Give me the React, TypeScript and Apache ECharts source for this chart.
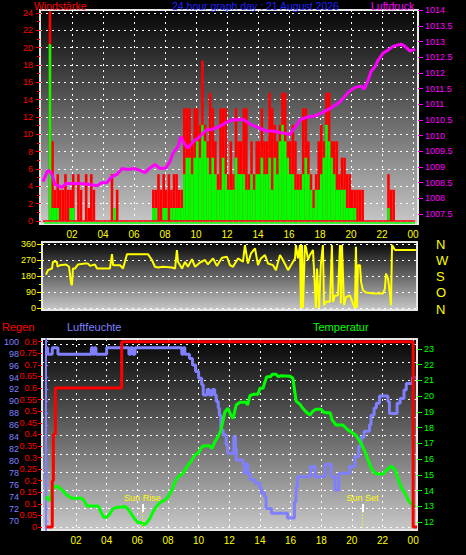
import React, { useEffect, useRef } from "react";
import * as echarts from "echarts";

// ---------- DATA ----------
const windBinsPerHour = 6; // 10-minute bins
const windGust = [
  0, 0, 0, 24.2, 9.2, 3.6,
  5.4, 3.6, 3.6, 5.4, 3.6, 3.6,
  5.4, 0, 5.4, 3.6, 0, 5.4,
  1.5, 5.4, 3.6, 0, 0, 0,
  0, 0, 0, 5.4, 0, 3.6,
  0, 0, 0, 0, 0, 0,
  0, 0, 0, 0, 0, 0,
  0, 3.6, 3.6, 5.4, 3.6, 5.4,
  3.6, 5.4, 3.6, 5.4, 5.4, 3.6,
  3.6, 13, 13, 13, 9.2, 13,
  13, 11.1, 18.5, 11.1, 9.2, 14.8,
  13, 9.2, 5.4, 13, 13, 13,
  5.4, 9.2, 5.4, 13, 9.2, 9.2,
  13, 13, 5.4, 9.2, 5.4, 9.2,
  9.2, 13, 9.2, 9.2, 14.8, 13,
  11.1, 9.2, 11.1, 14.8, 14.8, 9.2,
  9.2, 11.1, 9.2, 5.4, 5.4, 13,
  13, 9.2, 5.4, 3.6, 5.4, 9.2,
  11.1, 9.2, 14.8, 14.8, 9.2, 9.2,
  9.2, 5.4, 7.3, 7.3, 5.4, 5.4,
  3.6, 3.6, 3.6, 3.6, 3.6, 0,
  0, 0, 0, 0, 0, 0,
  0, 0, 5.4, 3.6, 3.6, 0,
  0, 0, 0, 0, 0, 0,
];
const windAvg = [
  0, 0, 0, 20.4, 1.5, 1.5,
  1.5, 0, 0, 0, 0, 1.5,
  1.5, 0, 0, 0, 0, 0,
  0, 0, 0, 0, 0, 0,
  0, 0, 0, 0, 1.5, 0,
  0, 0, 0, 0, 0, 0,
  0, 0, 0, 0, 0, 0,
  0, 1.5, 1.5, 0, 0, 1.5,
  1.5, 0, 1.5, 1.5, 1.5, 1.5,
  1.5, 5.4, 7.3, 7.3, 5.4, 7.3,
  9.2, 7.3, 11.1, 9.2, 7.3, 5.4,
  7.3, 5.4, 3.6, 3.6, 7.3, 5.4,
  3.6, 3.6, 3.6, 7.3, 5.4, 5.4,
  5.4, 3.6, 3.6, 5.4, 3.6, 5.4,
  5.4, 7.3, 5.4, 5.4, 7.3, 3.6,
  7.3, 5.4, 9.2, 11.1, 9.2, 7.3,
  5.4, 5.4, 3.6, 3.6, 3.6, 5.4,
  7.3, 5.4, 3.6, 1.5, 3.6, 3.6,
  5.4, 7.3, 11.1, 9.2, 7.3, 5.4,
  3.6, 3.6, 3.6, 3.6, 1.5, 1.5,
  1.5, 1.5, 0, 0, 0, 0,
  0, 0, 0, 0, 0, 0,
  0, 0, 1.5, 0, 0, 0,
  0, 0, 0, 0, 0, 0,
];

const pressHours = [0.13,0.45,0.58,0.71,0.9,1.35,1.61,2.52,3.16,3.61,3.94,4.26,4.58,4.9,5.23,5.61,6.06,6.39,6.71,7.03,7.35,7.68,8.06,8.32,8.52,8.84,9.03,9.23,9.48,9.81,10.26,10.65,11.03,11.55,12.06,12.39,13.03,13.48,14.0,14.52,14.9,15.42,16.06,16.35,16.71,17.15,17.68,18.0,18.65,19.35,19.81,20.26,20.65,20.84,21.1,21.29,21.55,21.74,22.06,22.39,22.71,23.23,23.48,23.81,24.13];
const pressValues = [1008.53,1008.9,1008.85,1008.76,1008.45,1008.35,1008.47,1008.47,1008.44,1008.4,1008.5,1008.5,1008.7,1008.76,1008.95,1008.92,1008.95,1008.89,1008.82,1008.97,1009.08,1008.95,1008.97,1009.17,1009.45,1009.65,1009.97,1009.76,1009.6,1009.8,1009.97,1010.18,1010.2,1010.3,1010.45,1010.5,1010.52,1010.37,1010.26,1010.15,1010.15,1010.1,1010.04,1010.24,1010.5,1010.59,1010.63,1010.7,1010.87,1011.1,1011.38,1011.54,1011.58,1011.48,1011.76,1012.05,1012.2,1012.4,1012.63,1012.73,1012.85,1012.92,1012.85,1012.7,1012.76];

const dirHours = [0.32,0.45,0.71,0.77,1.03,1.06,1.23,1.61,1.81,1.94,2.0,2.06,2.19,2.39,2.84,3.03,3.16,3.48,3.61,4.45,4.58,4.65,5.1,5.29,5.55,6.9,7.16,7.35,7.55,7.87,8.45,8.65,8.77,8.84,9.1,9.29,9.48,9.74,9.94,10.26,10.58,10.77,11.1,11.35,11.68,12.0,12.19,12.39,12.71,13.03,13.16,13.35,13.55,13.81,14.0,14.19,14.45,14.65,14.97,15.16,15.42,15.61,15.94,16.13,16.39,16.45,16.58,16.71,16.77,16.84,16.9,17.03,17.1,17.23,17.35,17.55,17.74,17.81,17.94,18.06,18.19,18.26,18.39,18.65,18.77,18.84,18.97,19.16,19.29,19.35,19.42,19.55,19.68,19.94,20.13,20.26,20.32,20.39,20.45,20.58,20.65,20.77,20.97,21.42,22.06,22.19,22.26,22.39,22.52,22.58,22.65,22.84,24.19];
const dirDegrees = [188,213,222,260,260,232,241,245,232,138,128,222,222,245,250,250,237,245,222,222,303,241,241,222,303,303,270,232,228,232,228,222,326,260,222,260,232,275,232,256,270,245,279,237,283,288,241,232,279,260,354,250,307,335,241,279,298,250,241,213,298,270,213,241,279,354,279,354,0,354,0,354,340,270,298,326,0,222,0,250,354,15,35,35,354,34,70,70,354,25,354,15,62,70,25,0,345,0,241,241,147,100,87,81,81,109,194,166,72,15,354,326,326];

const rainHours = [0.08, 0.45, 0.52, 0.65, 4.98, 24.0, 24.25];
const rainValues = [0, 0.2, 0.4, 0.6, 0.8, 0, 0];

const humHours = [0.08,0.15,0.45,0.82,3.0,3.1,3.2,3.3,4.0,5.45,5.55,5.7,5.85,8.9,9.0,9.1,9.4,9.6,9.8,10.0,10.2,10.3,10.55,10.7,10.9,11.05,11.15,11.28,11.35,11.45,11.6,11.8,11.9,12.3,12.4,12.45,12.9,13.0,13.1,13.2,13.35,13.7,14.0,14.1,14.3,14.4,14.75,15.8,16.25,16.35,16.45,17.3,17.6,18.25,18.65,18.9,19.15,19.85,20.2,20.45,20.6,20.8,21.15,21.25,21.45,21.6,21.8,22.35,22.45,22.95,23.15,23.4,23.55,23.95,24.15];
const humValues = [99,97.9,99,97.9,99,97.9,99,97.9,99,97.9,99,97.9,99,97.9,99,97.9,97.2,96.1,95,93.9,92.8,91.1,92,91.1,92,91.1,90,88.9,87.7,85.2,84.4,82.7,81.3,84.1,82.2,80.2,79.5,78,79.5,78,76.9,76.3,75.5,74.7,74.1,72.1,71.3,70.5,73.2,75.7,77.4,79.1,77.4,79.5,77.4,75.2,78,79.1,80.8,82.5,84,85,86.1,87.7,88.9,89.7,90.9,90,88,89.7,90.5,91.9,93,94,94];

const tempHours = [0.04,0.2,0.3,0.43,0.63,0.82,1.08,1.4,1.73,2.4,2.6,2.7,3.45,3.56,3.8,4.0,4.2,4.4,4.7,5.0,5.2,5.4,5.65,5.85,6.05,6.3,6.37,6.6,6.83,7.03,7.28,7.48,7.8,8.0,8.26,8.46,8.66,8.98,9.24,9.57,9.76,9.96,10.22,10.4,10.7,10.87,11.07,11.27,11.46,11.72,11.92,12.1,12.25,12.45,12.7,13.1,13.2,13.35,13.55,13.87,14.0,14.2,14.33,14.45,14.7,14.8,15.05,15.2,15.4,15.96,16.15,16.26,16.36,16.62,16.8,17.0,17.27,17.47,17.66,17.99,18.12,18.3,18.58,18.71,18.97,19.4,19.75,20.08,20.3,20.6,20.86,21.06,21.26,21.52,21.7,22.04,22.23,22.56,22.82,23.0,23.2,23.47,23.67,23.87,24.13];
const tempValues = [13.61,13.4,13.4,14.04,14.25,14.25,14.04,13.72,13.51,13.51,13.23,13.02,13.02,12.77,12.3,12.3,12.51,12.83,12.94,12.94,13.0,12.81,12.45,12.17,11.96,11.96,11.81,11.92,12.24,12.66,13.02,13.23,13.4,13.61,14.04,14.56,14.88,15.1,15.52,15.94,16.26,16.36,16.79,16.85,16.85,16.68,17.11,17.43,17.85,19.01,19.23,18.8,18.59,19.44,19.61,19.61,19.44,20.03,20.12,20.12,20.5,20.5,20.92,21.24,21.24,21.39,21.39,21.24,21.3,21.27,21.14,20.39,19.69,19.48,19.23,19.01,18.8,19.06,19.17,19.17,19.01,18.95,18.95,18.49,18.17,18.17,17.85,17.64,17.47,17.0,16.47,15.94,15.42,15.1,15.05,15.05,15.27,15.56,15.31,14.78,14.25,13.83,13.4,13.15,12.94];

const sunRiseHour = 6.33;
const sunSetHour = 20.69;

// tick labels
const hourTicks = [2, 4, 6, 8, 10, 12, 14, 16, 18, 20, 22, 24];
const windTicks = [0, 2, 4, 6, 8, 10, 12, 14, 16, 18, 20, 22, 24];
const windMinorTicks = [1, 3, 5, 7, 9, 11, 13, 15, 17, 19, 21, 23];
const pressTicks = [1007.5, 1008, 1008.5, 1009, 1009.5, 1010, 1010.5, 1011, 1011.5, 1012, 1012.5, 1013, 1013.5, 1014];
const dirTicks = [0, 90, 180, 270, 360];
const dirMinorTicks = [45, 135, 225, 315];
const compassLetters = ["N", "O", "S", "W", "N"];
const humTicks = [70, 72, 74, 76, 78, 80, 82, 84, 86, 88, 90, 92, 94, 96, 98, 100];
const rainTicks = [0, 0.05, 0.1, 0.15, 0.2, 0.25, 0.3, 0.35, 0.4, 0.45, 0.5, 0.55, 0.6, 0.65, 0.7, 0.75, 0.8];
const tempTicks = [12, 13, 14, 15, 16, 17, 18, 19, 20, 21, 22, 23];
const gridRowTicks = [0, 1, 2, 3, 4, 5, 6, 7, 8, 9, 10];

// ---------- STYLE ----------
const FONT = '"Liberation Sans", Arial, sans-serif';
const RED = "#ff0000";
const GREEN = "#00ff00";
const MAGENTA = "#ff00ff";
const YELLOW = "#ffff00";
const LAVENDER = "#8080ff";
const dotted = { color: "#ffffff", width: 1, type: [2, 4] as number[] };

const grad = () =>
  new echarts.graphic.LinearGradient(0, 0, 0, 1, [
    { offset: 0, color: "#050505" },
    { offset: 1, color: "#c8c8c8" },
  ]);

const fmtHour = (v: number) => String(Math.round(v) % 24).padStart(2, "0");
const fmtNum = (v: number) => String(+Number(v).toFixed(2));

function buildOption(): any {
  const gridBase = {
    show: true,
    borderColor: "#e6e6e6",
    borderWidth: 2,
    outerBoundsMode: "none",
    containLabel: false,
  };
  const hourAxis = (gridIndex: number, min: number, max: number, labels: boolean) => ({
    gridIndex,
    type: "value",
    min,
    max,
    axisLine: { show: false },
    axisTick: { show: false, customValues: hourTicks },
    axisLabel: {
      show: labels,
      customValues: hourTicks,
      formatter: fmtHour,
      color: YELLOW,
      fontSize: 10,
      fontFamily: FONT,
      margin: 5,
    },
    splitLine: { show: labels, lineStyle: dotted },
  });
  const noSplit = { show: false };

  const sunMark = (hour: number, text: string) => [
    [
      {
        coord: [hour, 0.82],
        lineStyle: { color: "#ffffff", width: 2, type: "solid" },
        label: {
          show: true,
          position: "end",
          formatter: text,
          color: YELLOW,
          fontSize: 9,
          fontFamily: FONT,
          distance: 1,
        },
      },
      { coord: [hour, 1.26] },
    ],
    [
      {
        coord: [hour, -0.05],
        lineStyle: { color: YELLOW, width: 1, type: [1, 2] },
        label: { show: false },
      },
      { coord: [hour, 0.82] },
    ],
  ];

  const title = (x: number, y: number, text: string, fill: string, size: number) => ({
    type: "text",
    x,
    y,
    z: 100,
    style: { text, fill, fontSize: size, fontFamily: FONT, verticalAlign: "top" },
  });

  return {
    animation: false,
    backgroundColor: "#000000",
    textStyle: { fontFamily: FONT },
    grid: [
      { ...gridBase, left: 40, top: 10, width: 378, height: 214, backgroundColor: grad() },
      { ...gridBase, left: 42, top: 242, width: 375, height: 68, backgroundColor: grad() },
      { ...gridBase, left: 42, top: 339, width: 375, height: 191, backgroundColor: grad() },
    ],
    xAxis: [
      hourAxis(0, -0.06, 24.32, true),
      hourAxis(1, 0.065, 24.26, false),
      hourAxis(2, -0.22, 24.25, true),
    ],
    yAxis: [
      // 0 wind speed
      {
        gridIndex: 0,
        type: "value",
        position: "left",
        min: -0.35,
        max: 24.35,
        axisLine: { show: false },
        axisTick: { show: true, customValues: windTicks, length: 5, lineStyle: { color: RED } },
        axisLabel: { customValues: windTicks, color: RED, fontSize: 9, fontFamily: FONT, margin: 7 },
        splitLine: { show: true, lineStyle: dotted },
      },
      // 1 wind minor ticks
      {
        gridIndex: 0,
        type: "value",
        position: "left",
        min: -0.35,
        max: 24.35,
        axisLine: { show: false },
        axisTick: { show: true, customValues: windMinorTicks, length: 3, lineStyle: { color: RED } },
        axisLabel: { show: false },
        splitLine: noSplit,
      },
      // 2 pressure
      {
        gridIndex: 0,
        type: "value",
        position: "right",
        min: 1007.18,
        max: 1014.01,
        axisLine: { show: false },
        axisTick: { show: true, customValues: pressTicks, length: 5, lineStyle: { color: MAGENTA } },
        axisLabel: { customValues: pressTicks, formatter: fmtNum, color: MAGENTA, fontSize: 9, fontFamily: FONT, margin: 7 },
        splitLine: noSplit,
      },
      // 3 wind direction degrees
      {
        gridIndex: 1,
        type: "value",
        position: "left",
        min: -11.25,
        max: 371.25,
        axisLine: { show: false },
        axisTick: { show: true, customValues: dirTicks, length: 5, lineStyle: { color: YELLOW } },
        axisLabel: { customValues: dirTicks, color: YELLOW, fontSize: 9, fontFamily: FONT, margin: 6 },
        splitLine: { show: true, lineStyle: dotted },
      },
      // 4 direction minor ticks
      {
        gridIndex: 1,
        type: "value",
        position: "left",
        min: -11.25,
        max: 371.25,
        axisLine: { show: false },
        axisTick: { show: true, customValues: dirMinorTicks, length: 3, lineStyle: { color: YELLOW } },
        axisLabel: { show: false },
        splitLine: noSplit,
      },
      // 5 compass letters
      {
        gridIndex: 1,
        type: "value",
        position: "right",
        min: -5.4,
        max: 373.5,
        axisLine: { show: false },
        axisTick: { show: false, customValues: dirTicks },
        axisLabel: {
          customValues: dirTicks,
          formatter: (v: number) => compassLetters[Math.round(v / 90)],
          color: YELLOW,
          fontSize: 13,
          fontFamily: FONT,
          margin: 19,
        },
        splitLine: noSplit,
      },
      // 6 humidity
      {
        gridIndex: 2,
        type: "value",
        position: "left",
        offset: 20,
        min: 68.49,
        max: 100.45,
        axisLine: { show: true, lineStyle: { color: LAVENDER, width: 2 } },
        axisTick: { show: true, inside: true, customValues: humTicks, length: 3, lineStyle: { color: LAVENDER } },
        axisLabel: { customValues: humTicks, color: LAVENDER, fontSize: 9, fontFamily: FONT, margin: 3 },
        splitLine: noSplit,
      },
      // 7 rain
      {
        gridIndex: 2,
        type: "value",
        position: "left",
        min: -0.01295,
        max: 0.8117,
        axisLine: { show: false },
        axisTick: { show: true, customValues: rainTicks, length: 4, lineStyle: { color: RED } },
        axisLabel: { customValues: rainTicks, formatter: fmtNum, color: RED, fontSize: 9, fontFamily: FONT, margin: 5 },
        splitLine: noSplit,
      },
      // 8 temperature
      {
        gridIndex: 2,
        type: "value",
        position: "right",
        min: 11.49,
        max: 23.636,
        axisLine: { show: false },
        axisTick: { show: true, customValues: tempTicks, length: 5, lineStyle: { color: GREEN } },
        axisLabel: { customValues: tempTicks, color: GREEN, fontSize: 9, fontFamily: FONT, margin: 7 },
        splitLine: noSplit,
      },
      // 9 panel-3 grid rows (no labels)
      {
        gridIndex: 2,
        type: "value",
        position: "right",
        min: -0.164,
        max: 10.273,
        axisLine: { show: false },
        axisTick: { show: false, customValues: gridRowTicks },
        axisLabel: { show: false, customValues: gridRowTicks },
        splitLine: { show: true, lineStyle: dotted },
      },
    ],
    series: [
      {
        type: "bar",
        name: "gust",
        xAxisIndex: 0,
        yAxisIndex: 0,
        barWidth: 2.6,
        barGap: "-100%",
        itemStyle: { color: RED },
        data: windGust.map((v, i) => [(i + 0.5) / windBinsPerHour, v]),
        markLine: {
          silent: true,
          symbol: "none",
          label: { show: false },
          lineStyle: { color: RED, width: 1.5, type: "solid" },
          data: [[{ coord: [0.13, 0] }, { coord: [24.13, 0] }]],
        },
      },
      {
        type: "bar",
        name: "avg",
        xAxisIndex: 0,
        yAxisIndex: 0,
        barWidth: 2.6,
        barGap: "-100%",
        itemStyle: { color: GREEN },
        data: windAvg.map((v, i) => [(i + 0.5) / windBinsPerHour, v]),
        markLine: {
          silent: true,
          symbol: "none",
          label: { show: false },
          lineStyle: { color: GREEN, width: 1.5, type: "solid" },
          data: [[{ coord: [0.2, -0.25] }, { coord: [24.13, -0.25] }]],
        },
      },
      {
        type: "line",
        name: "pressure",
        xAxisIndex: 0,
        yAxisIndex: 2,
        symbol: "none",
        lineStyle: { color: MAGENTA, width: 3 },
        data: pressHours.map((h, i) => [h, pressValues[i]]),
      },
      {
        type: "line",
        name: "direction",
        xAxisIndex: 1,
        yAxisIndex: 3,
        symbol: "none",
        lineStyle: { color: YELLOW, width: 2 },
        data: dirHours.map((h, i) => [h, dirDegrees[i]]),
      },
      {
        type: "line",
        name: "humidity",
        xAxisIndex: 2,
        yAxisIndex: 6,
        symbol: "none",
        step: "end",
        lineStyle: { color: LAVENDER, width: 3 },
        data: humHours.map((h, i) => [h, humValues[i]]),
      },
      {
        type: "line",
        name: "temperature",
        xAxisIndex: 2,
        yAxisIndex: 8,
        symbol: "none",
        lineStyle: { color: GREEN, width: 3 },
        data: tempHours.map((h, i) => [h, tempValues[i]]),
      },
      {
        type: "line",
        name: "rain",
        xAxisIndex: 2,
        yAxisIndex: 7,
        symbol: "none",
        step: "end",
        lineStyle: { color: RED, width: 3 },
        data: rainHours.map((h, i) => [h, rainValues[i]]),
      },
      {
        type: "line",
        name: "sun",
        xAxisIndex: 2,
        yAxisIndex: 9,
        symbol: "none",
        data: [],
        markLine: {
          silent: true,
          symbol: "none",
          data: [...sunMark(sunRiseHour, "Sun Rise"), ...sunMark(sunSetHour, "Sun Set")],
        },
      },
    ],
    graphic: [
      title(34, 0, "Windstärke", RED, 10.5),
      title(172, 0, "24 hour graph day : 21 August 2026", "#2020ff", 10.5),
      title(371, 0, "Luftdruck", MAGENTA, 10.5),
      title(2, 321, "Regen", RED, 11),
      title(67, 321, "Luftfeuchte", LAVENDER, 11),
      title(313, 321, "Temperatur", GREEN, 11),
    ],
  };
}

export default function App() {
  const ref = useRef<HTMLDivElement>(null);
  useEffect(() => {
    if (!ref.current) return;
    const chart = echarts.init(ref.current, null, { renderer: "svg" });
    chart.setOption(buildOption());
    return () => chart.dispose();
  }, []);
  return (
    <div
      ref={ref}
      style={{ position: "absolute", left: 0, top: 0, width: 466, height: 555, background: "#000" }}
    />
  );
}
